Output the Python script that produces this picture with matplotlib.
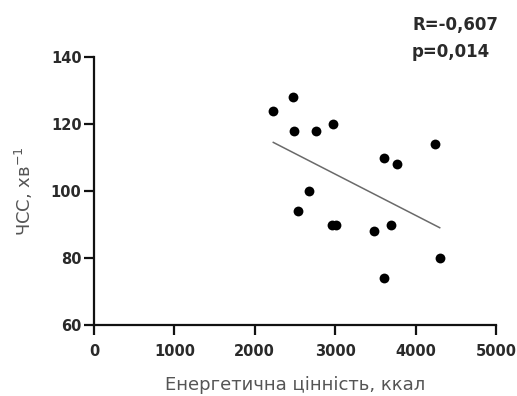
import numpy as np
import matplotlib
matplotlib.use("Agg")
import matplotlib.pyplot as plt

plt.rcParams['font.family'] = ['DejaVu Sans']

# Energy value of the diet (kcal) vs heart rate (beats per minute)
energy_kcal = [2230, 2470, 2490, 2760, 2970, 2680, 2540, 2960, 3010, 3480, 3690, 3610, 3610, 3770, 4240, 4300]
heart_rate = [124, 128, 118, 118, 120, 100, 94, 90, 90, 88, 90, 74, 110, 108, 114, 80]

r_text = "R=-0,607"
p_text = "p=0,014"
x_ticks = [0, 1000, 2000, 3000, 4000, 5000]
y_ticks = [60, 80, 100, 120, 140]

W, H = 517, 396
fig = plt.figure(figsize=(W / 100, H / 100), dpi=100)
ax = fig.add_axes([94 / W, 1 - 325 / H, 402 / W, 268 / H])

ax.scatter(energy_kcal, heart_rate, s=50, color='black', zorder=3, linewidths=0)

# Linear regression line across the data range
slope, intercept = np.polyfit(energy_kcal, heart_rate, 1)
xl = np.array([min(energy_kcal), max(energy_kcal)])
ax.plot(xl, slope * xl + intercept, color='#6a6a6a', lw=1.1, zorder=2)

ax.set_xlim(0, 5000)
ax.set_ylim(60, 140)
ax.set_xticks(x_ticks)
ax.set_yticks(y_ticks)
for s in ['top', 'right']:
    ax.spines[s].set_visible(False)
for s in ['left', 'bottom']:
    ax.spines[s].set_linewidth(1.6)
    ax.spines[s].set_color('#111111')
ax.tick_params(width=1.6, length=7, labelsize=10.5, colors='#111111', labelcolor='#2a2a2a')
ax.tick_params(axis='x', pad=7)
ax.tick_params(axis='y', pad=2)
for lab in ax.get_xticklabels() + ax.get_yticklabels():
    lab.set_fontweight('bold')

ax.set_xlabel("Енергетична цінність, ккал", fontsize=13, color='#555555', labelpad=12)
ax.set_ylabel("ЧСС, хв$^{-1}$", fontsize=13, color='#555555', labelpad=11)

fig.text(412 / W, 1 - 30 / H, r_text, fontsize=12, fontweight='bold', color='#2a2a2a', va='baseline')
fig.text(412 / W, 1 - 57 / H, p_text, fontsize=12, fontweight='bold', color='#2a2a2a', va='baseline')

fig.savefig("out.png", dpi=100, facecolor='white')
